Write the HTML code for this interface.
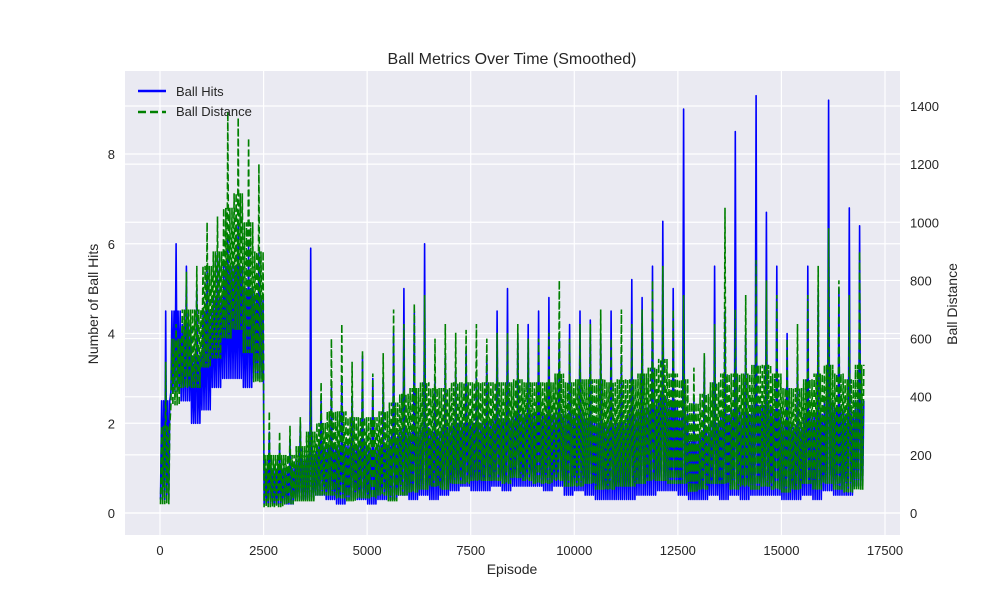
<!DOCTYPE html>
<html><head><meta charset="utf-8"><style>
body{margin:0;background:#fff;font-family:"Liberation Sans",sans-serif;}
svg text{font-family:"Liberation Sans",sans-serif;fill:#262626;}
</style></head><body>
<svg id="chart" width="1000" height="600">
<rect width="1000" height="600" fill="#fff"/>
</svg>
<script>
const episodes = [0,250,500,750,1000,1250,1500,1750,2000,2250,2500,2750,3000,3250,3500,3750,4000,4250,4500,4750,5000,5250,5500,5750,6000,6250,6500,6750,7000,7250,7500,7750,8000,8250,8500,8750,9000,9250,9500,9750,10000,10250,10500,10750,11000,11250,11500,11750,12000,12250,12500,12750,13000,13250,13500,13750,14000,14250,14500,14750,15000,15250,15500,15750,16000,16250,16500,16750];
const hitsHi = [4.5,6.0,5.5,5.0,5.5,5.8,6.2,6.5,6.0,5.8,1.8,1.5,1.6,2.0,5.9,2.5,2.8,3.0,2.6,3.5,3.0,3.0,4.0,5.0,4.5,6.0,3.0,3.5,3.2,3.6,3.0,3.5,4.5,5.0,4.0,4.2,4.5,4.8,4.0,4.2,4.5,4.3,4.0,4.5,3.5,5.2,4.8,5.5,6.5,5.0,9.0,2.5,3.5,5.5,4.5,8.5,4.0,9.3,6.7,5.5,4.0,3.5,5.5,5.0,9.2,5.0,6.8,6.4];
const hitsTyp = [2.5,4.5,4.2,3.5,4.5,4.8,5.5,5.5,5.0,4.8,1.0,1.0,1.0,1.2,1.3,1.5,1.5,1.5,1.5,1.5,1.4,1.5,1.7,1.8,1.8,1.9,1.8,1.9,2.0,2.0,2.0,2.0,2.1,2.1,2.2,2.2,2.2,2.2,2.2,2.2,2.2,2.1,2.0,2.0,2.0,2.2,2.3,2.4,2.6,2.4,2.2,1.6,1.8,2.0,2.2,2.3,2.2,2.4,2.4,2.3,2.0,1.9,2.2,2.2,2.5,2.3,2.2,2.5];
const hitsLo = [0.3,2.7,2.5,2.0,2.3,2.8,3.0,3.0,2.8,3.0,0.2,0.2,0.2,0.3,0.3,0.4,0.3,0.2,0.3,0.3,0.2,0.3,0.3,0.4,0.3,0.4,0.3,0.4,0.5,0.6,0.5,0.5,0.6,0.5,0.6,0.6,0.6,0.5,0.6,0.4,0.5,0.4,0.3,0.3,0.3,0.3,0.4,0.4,0.5,0.5,0.4,0.3,0.3,0.4,0.3,0.4,0.3,0.4,0.4,0.4,0.3,0.3,0.4,0.3,0.5,0.4,0.4,0.6];
const distHi = [520,650,830,850,1000,1020,1380,1360,1290,1200,350,280,300,330,420,450,600,650,520,560,480,550,700,650,720,750,600,650,620,630,650,600,620,620,650,600,600,620,800,600,650,650,700,600,700,650,700,800,850,700,750,500,550,650,1050,700,750,870,800,750,600,650,750,850,980,800,750,900];
const distTyp = [300,600,700,700,850,900,1050,1100,1000,900,200,200,200,230,280,310,350,350,330,330,330,350,380,410,430,450,430,430,450,450,450,450,450,450,460,450,450,450,480,450,460,460,460,450,460,460,480,500,530,480,460,380,410,450,480,480,480,510,510,480,430,430,460,480,510,480,460,510];
const distLo = [30,370,430,430,500,530,600,630,550,450,20,20,30,40,40,60,60,50,40,50,50,60,40,60,70,80,90,80,100,100,110,110,110,100,120,110,100,100,110,90,90,100,80,80,90,90,100,110,110,100,100,70,80,100,100,80,90,80,90,80,70,80,100,80,100,80,70,80];
const xTicks = [0,2500,5000,7500,10000,12500,15000,17500];
const yLeftTicks = [0,2,4,6,8];
const yRightTicks = [0,200,400,600,800,1000,1200,1400];

const L=125,R=900,T=71,B=535;
const xS=v=>160+v*(885-160)/17500;
const yL=v=>513-v*(513-154)/8;
const yR=v=>513-v*(513-106)/1400;
const svg=document.getElementById('chart');
const NS='http://www.w3.org/2000/svg';
function mk(tag,attrs,parent){const e=document.createElementNS(NS,tag);for(const k in attrs)e.setAttribute(k,attrs[k]);(parent||svg).appendChild(e);return e;}

const bg=mk('rect',{x:L,y:T,width:R-L,height:B-T,fill:'#eaeaf2'});


const grid=mk('g',{stroke:'#fff','stroke-width':1.2});


xTicks.forEach(t=>{mk('line',{x1:xS(t),x2:xS(t),y1:T,y2:B},grid);});
yLeftTicks.forEach(t=>{mk('line',{x1:L,x2:R,y1:yL(t),y2:yL(t)},grid);});
yRightTicks.forEach(t=>{mk('line',{x1:L,x2:R,y1:yR(t),y2:yR(t)},grid);});

function band(hi,typ,lo,sy){
  const pts=[];const steps=10;
  episodes.forEach((e,i)=>{
    const x0=xS(e), w=xS(e+250)-x0;
    for(let k=0;k<steps;k++){
      const x=x0+w*(k+0.5)/steps;
      let v;
      if(k===5) v=hi[i];
      else v=(k%2===0)?lo[i]:typ[i];
      pts.push(x.toFixed(1)+','+sy(v).toFixed(1));
    }
  });
  return pts.join(' ');
}
const hl=mk('polyline',{points:band(hitsHi,hitsTyp,hitsLo,yL),fill:'none',stroke:'#0000ff','stroke-width':1.6,'stroke-linejoin':'round'});


const dl=mk('polyline',{points:band(distHi,distTyp,distLo,yR),fill:'none',stroke:'#008000','stroke-width':1.6,'stroke-dasharray':'7,3'});



xTicks.forEach(t=>{const e=mk('text',{x:xS(t),y:555,'font-size':13,'text-anchor':'middle'});e.textContent=t;

});
yLeftTicks.forEach(t=>{const e=mk('text',{x:115,y:yL(t)+5,'font-size':13,'text-anchor':'end'});e.textContent=t;

});
yRightTicks.forEach(t=>{const e=mk('text',{x:910,y:yR(t)+5,'font-size':13,'text-anchor':'start'});e.textContent=t;

});

let e=mk('text',{x:512,y:64,'font-size':16,'text-anchor':'middle'});e.textContent='Ball Metrics Over Time (Smoothed)';


e=mk('text',{x:512,y:574,'font-size':14,'text-anchor':'middle'});e.textContent='Episode';


e=mk('text',{x:0,y:0,'font-size':14,'text-anchor':'middle',transform:'translate(98,304) rotate(-90)'});e.textContent='Number of Ball Hits';


e=mk('text',{x:0,y:0,'font-size':14,'text-anchor':'middle',transform:'translate(957,304) rotate(-90)'});e.textContent='Ball Distance';



const lg=mk('g',{});


mk('line',{x1:138,x2:166,y1:91,y2:91,stroke:'#0000ff','stroke-width':2.5},lg);
mk('line',{x1:138,x2:166,y1:112,y2:112,stroke:'#008000','stroke-width':2.5,'stroke-dasharray':'8,4'},lg);
e=mk('text',{x:176,y:96,'font-size':13},lg);e.textContent='Ball Hits';


e=mk('text',{x:176,y:116,'font-size':13},lg);e.textContent='Ball Distance';


</script>
</body></html>
